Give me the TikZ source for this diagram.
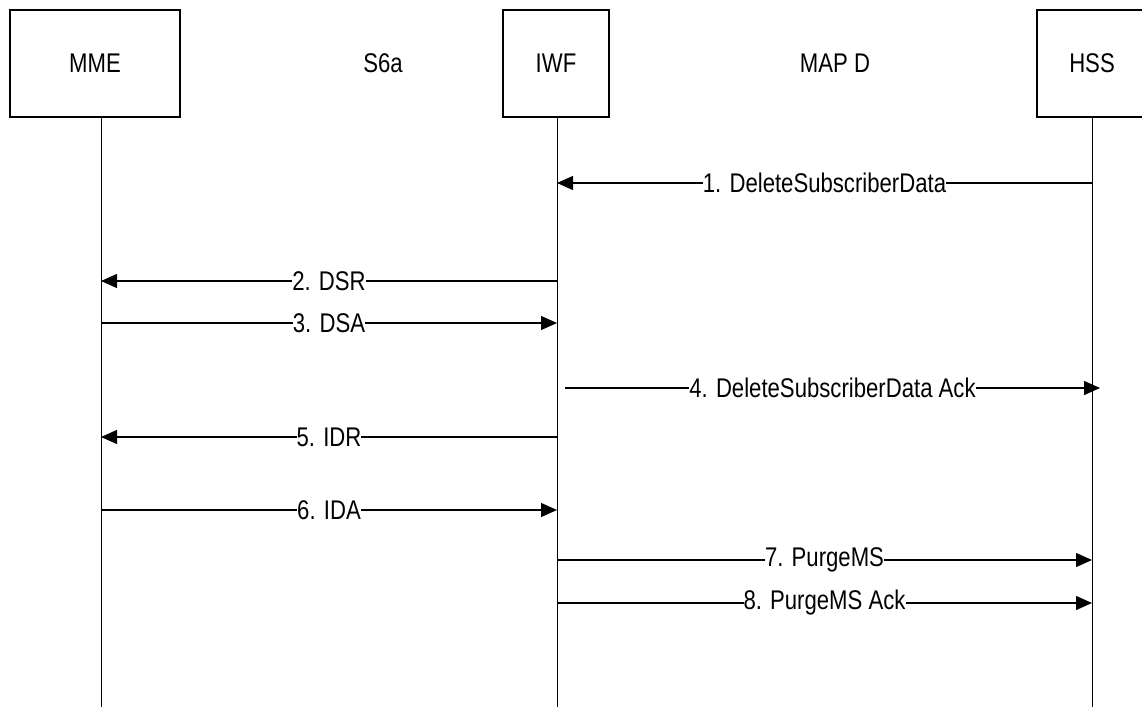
\documentclass[tikz,border=0pt]{standalone}
\usepackage{fontspec}
\setmainfont{Liberation Sans}[FakeStretch=0.82]
\usetikzlibrary{arrows.meta}
\begin{document}
\begin{tikzpicture}[x=1pt,y=-1pt,
  ent/.style={draw, line width=1.2pt, inner sep=0pt, font=\fontsize{27}{30}\selectfont},
  iface/.style={inner sep=0pt, font=\fontsize{27}{30}\selectfont},
  life/.style={line width=1pt},
  msg/.style={line width=1.2pt, -{Triangle[length=16pt,width=14pt]}},
  lbl/.style={fill=white, inner sep=0pt, font=\fontsize{27}{30}\selectfont}]
\useasboundingbox (0,0) rectangle (1142,707);
\clip (0,0) rectangle (1142,707);
\node[ent, minimum width=170pt, minimum height=107pt] (mme) at (95,63.5) {MME};
\node[ent, minimum width=106pt, minimum height=107pt] (iwf) at (556,63.5) {IWF};
\node[ent, minimum width=110pt, minimum height=107pt] (hss) at (1092,63.5) {HSS};
\node[iface] (s6a) at (383,63) {S6a};
\node[iface] (mapd) at (835,63) {MAP D};
% lifelines
\coordinate (mmeB) at (101,707);
\coordinate (iwfB) at (557,707);
\coordinate (hssB) at (1092,707);
\draw[life] (mme.south -| mmeB) -- (mmeB);
\draw[life] (iwf.south -| iwfB) -- (iwfB);
\draw[life] (hss.south -| hssB) -- (hssB);
% message end points
\coordinate (h1) at (1092,183); \coordinate (i1) at (557,183);
\coordinate (i2) at (557,281); \coordinate (m2) at (101,281);
\coordinate (m3) at (101,323); \coordinate (i3) at (557,323);
\coordinate (i4) at (565,388); \coordinate (h4) at (1100,388);
\coordinate (i5) at (557,437); \coordinate (m5) at (101,437);
\coordinate (m6) at (101,510); \coordinate (i6) at (557,510);
\coordinate (i7) at (557,560); \coordinate (h7) at (1092,560);
\coordinate (i8) at (557,603); \coordinate (h8) at (1092,603);
\draw[msg] (h1) -- node[lbl] {1. DeleteSubscriberData} (i1);
\draw[msg] (i2) -- node[lbl] {2. DSR} (m2);
\draw[msg] (m3) -- node[lbl] {3. DSA} (i3);
\draw[msg] (i4) -- node[lbl] {4. DeleteSubscriberData Ack} (h4);
\draw[msg] (i5) -- node[lbl] {5. IDR} (m5);
\draw[msg] (m6) -- node[lbl] {6. IDA} (i6);
\draw[msg] (i7) -- node[lbl] {7. PurgeMS} (h7);
\draw[msg] (i8) -- node[lbl] {8. PurgeMS Ack} (h8);
\end{tikzpicture}
\end{document}
